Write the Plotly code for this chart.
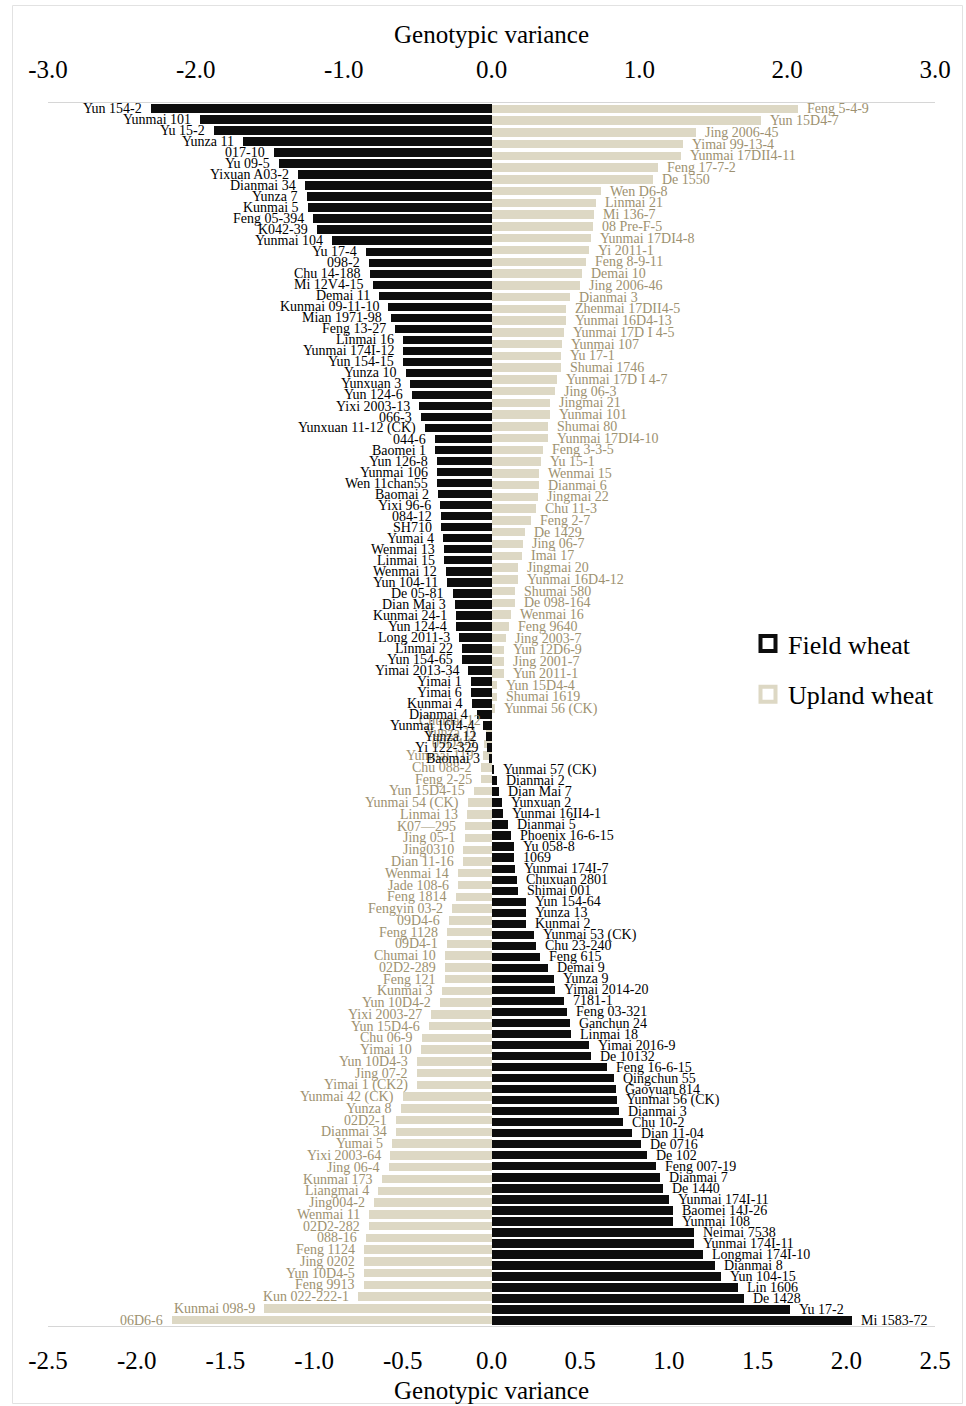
import plotly.graph_objects as go

# Field wheat genotypes (top axis scale), ranked by genotypic variance
field_names = [
    "Yun 154-2", "Yunmai 101", "Yu 15-2", "Yunza 11", "017-10", "Yu 09-5", "Yixuan A03-2", "Dianmai 34", "Yunza 7", "Kunmai 5",
    "Feng 05-394", "K042-39", "Yunmai 104", "Yu 17-4", "098-2", "Chu 14-188", "Mi 12V4-15", "Demai 11", "Kunmai 09-11-10", "Mian 1971-98",
    "Feng 13-27", "Linmai 16", "Yunmai 174I-12", "Yun 154-15", "Yunza 10", "Yunxuan 3", "Yun 124-6", "Yixi 2003-13", "066-3", "Yunxuan 11-12 (CK)",
    "044-6", "Baomei 1", "Yun 126-8", "Yunmai 106", "Wen 11chan55", "Baomai 2", "Yixi 96-6", "084-12", "SH710", "Yumai 4",
    "Wenmai 13", "Linmai 15", "Wenmai 12", "Yun 104-11", "De 05-81", "Dian Mai 3", "Kunmai 24-1", "Yun 124-4", "Long 2011-3", "Linmai 22",
    "Yun 154-65", "Yimai 2013-34", "Yimai 1", "Yimai 6", "Kunmai 4", "Dianmai 4", "Yunmai 16I4-4", "Yunza 12", "Yi 122-329", "Baomai 3",
    "Yunmai 57 (CK)", "Dianmai 2", "Dian Mai 7", "Yunxuan 2", "Yunmai 16II4-1", "Dianmai 5", "Phoenix 16-6-15", "Yu 058-8", "1069", "Yunmai 174I-7",
    "Chuxuan 2801", "Shimai 001", "Yun 154-64", "Yunza 13", "Kunmai 2", "Yunmai 53 (CK)", "Chu 23-240", "Feng 615", "Demai 9", "Yunza 9",
    "Yimai 2014-20", "7181-1", "Feng 03-321", "Ganchun 24", "Linmai 18", "Yimai 2016-9", "De 10132", "Feng 16-6-15", "Qingchun 55", "Gaoyuan 814",
    "Yunmai 56 (CK)", "Dianmai 3", "Chu 10-2", "Dian 11-04", "De 0716", "De 102", "Feng 007-19", "Dianmai 7", "De 1440", "Yunmai 174I-11",
    "Baomei 14J-26", "Yunmai 108", "Neimai 7538", "Yunmai 174I-11", "Longmai 174I-10", "Dianmai 8", "Yun 104-15", "Lin 1606", "De 1428", "Yu 17-2",
    "Mi 1583-72",
]
field_values = [
    -2.30, -1.97, -1.88, -1.68, -1.47, -1.44, -1.31, -1.26, -1.25, -1.24,
    -1.21, -1.18, -1.08, -0.85, -0.83, -0.82, -0.80, -0.76, -0.70, -0.68,
    -0.65, -0.60, -0.60, -0.60, -0.58, -0.55, -0.54, -0.49, -0.48, -0.45,
    -0.38, -0.38, -0.37, -0.37, -0.37, -0.36, -0.35, -0.34, -0.34, -0.33,
    -0.32, -0.32, -0.31, -0.30, -0.26, -0.25, -0.24, -0.24, -0.22, -0.20,
    -0.20, -0.16, -0.14, -0.14, -0.13, -0.10, -0.06, -0.04, -0.03, -0.02,
    0.02, 0.04, 0.05, 0.07, 0.08, 0.11, 0.13, 0.15, 0.15, 0.16,
    0.17, 0.18, 0.23, 0.23, 0.23, 0.29, 0.30, 0.33, 0.38, 0.42,
    0.43, 0.49, 0.51, 0.53, 0.54, 0.66, 0.67, 0.78, 0.83, 0.84,
    0.85, 0.86, 0.89, 0.95, 1.01, 1.05, 1.11, 1.14, 1.16, 1.20,
    1.23, 1.23, 1.37, 1.37, 1.43, 1.51, 1.55, 1.67, 1.71, 2.02,
    2.44,
]

# Upland wheat genotypes (bottom axis scale), ranked by genotypic variance
upland_names = [
    "Feng 5-4-9", "Yun 15D4-7", "Jing 2006-45", "Yimai 99-13-4", "Yunmai 17DII4-11", "Feng 17-7-2", "De 1550", "Wen D6-8", "Linmai 21", "Mi 136-7",
    "08 Pre-F-5", "Yunmai 17DI4-8", "Yi 2011-1", "Feng 8-9-11", "Demai 10", "Jing 2006-46", "Dianmai 3", "Zhenmai 17DII4-5", "Yunmai 16D4-13", "Yunmai 17D I 4-5",
    "Yunmai 107", "Yu 17-1", "Shumai 1746", "Yunmai 17D I 4-7", "Jing 06-3", "Jingmai 21", "Yunmai 101", "Shumai 80", "Yunmai 17DI4-10", "Feng 3-3-5",
    "Yu 15-1", "Wenmai 15", "Dianmai 6", "Jingmai 22", "Chu 11-3", "Feng 2-7", "De 1429", "Jing 06-7", "Imai 17", "Jingmai 20",
    "Yunmai 16D4-12", "Shumai 580", "De 098-164", "Wenmai 16", "Feng 9640", "Jing 2003-7", "Yun 12D6-9", "Jing 2001-7", "Yun 2011-1", "Yun 15D4-4",
    "Shumai 1619", "Yunmai 56 (CK)", "Chumai 12", "Yunza 11", "09D4-9", "Yunmai 119", "Chu 088-2", "Feng 2-25", "Yun 15D4-15", "Yunmai 54 (CK)",
    "Linmai 13", "K07\u2014295", "Jing 05-1", "Jing0310", "Dian 11-16", "Wenmai 14", "Jade 108-6", "Feng 1814", "Fengyin 03-2", "09D4-6",
    "Feng 1128", "09D4-1", "Chumai 10", "02D2-289", "Feng 121", "Kunmai 3", "Yun 10D4-2", "Yixi 2003-27", "Yun 15D4-6", "Chu 06-9",
    "Yimai 10", "Yun 10D4-3", "Jing 07-2", "Yimai 1 (CK2)", "Yunmai 42 (CK)", "Yunza 8", "02D2-1", "Dianmai 34", "Yumai 5", "Yixi 2003-64",
    "Jing 06-4", "Kunmai 173", "Liangmai 4", "Jing004-2", "Wenmai 11", "02D2-282", "088-16", "Feng 1124", "Jing 0202", "Yun 10D4-5",
    "Feng 9913", "Kun 022-222-1", "Kunmai 098-9", "06D6-6",
]
upland_values = [
    1.73, 1.52, 1.15, 1.08, 1.07, 0.94, 0.91, 0.62, 0.59, 0.575,
    0.57, 0.56, 0.55, 0.53, 0.51, 0.50, 0.44, 0.42, 0.42, 0.41,
    0.40, 0.39, 0.39, 0.37, 0.36, 0.33, 0.33, 0.32, 0.32, 0.29,
    0.28, 0.27, 0.27, 0.26, 0.25, 0.22, 0.19, 0.18, 0.17, 0.15,
    0.15, 0.13, 0.13, 0.11, 0.10, 0.08, 0.07, 0.07, 0.07, 0.03,
    0.03, 0.02, -0.01, -0.03, -0.04, -0.05, -0.06, -0.06, -0.10, -0.13,
    -0.14, -0.15, -0.15, -0.16, -0.16, -0.19, -0.19, -0.20, -0.22, -0.24,
    -0.25, -0.25, -0.26, -0.26, -0.26, -0.28, -0.29, -0.34, -0.35, -0.39,
    -0.40, -0.42, -0.42, -0.42, -0.50, -0.51, -0.54, -0.54, -0.56, -0.57,
    -0.58, -0.62, -0.64, -0.66, -0.69, -0.69, -0.71, -0.72, -0.72, -0.72,
    -0.72, -0.75, -1.28, -1.80,
]

top_ticks = [-3.0, -2.0, -1.0, 0.0, 1.0, 2.0, 3.0]
bottom_ticks = [-2.5, -2.0, -1.5, -1.0, -0.5, 0.0, 0.5, 1.0, 1.5, 2.0, 2.5]

FIELD_COLOR = "#0d0d0d"
UPLAND_COLOR = "#ddd8c4"
UPLAND_TEXT = "#9d9170"
FONT = "Liberation Serif"
LABEL_SIZE = 14

W, H = 966, 1406
ML, MR, MT, MB = 48, 31, 103, 80
PW, PH = W - ML - MR, H - MT - MB


def px_x(px):
    return (px - ML) / PW


def px_y(py):
    return (H - MB - py) / PH


field_rows = list(range(len(field_names)))
upland_rows = list(range(len(upland_names)))

fig = go.Figure()

fig.add_trace(go.Bar(
    x=upland_values, y=upland_rows, orientation="h",
    marker=dict(color=UPLAND_COLOR, line=dict(width=0)),
    width=0.72, xaxis="x", yaxis="y", showlegend=False,
    hovertext=upland_names, hoverinfo="text+x",
))
fig.add_trace(go.Bar(
    x=field_values, y=field_rows, orientation="h",
    marker=dict(color=FIELD_COLOR, line=dict(width=0)),
    width=0.77, xaxis="x2", yaxis="y2", showlegend=False,
    hovertext=field_names, hoverinfo="text+x",
))

# legend-only entries with hollow square symbols
fig.add_trace(go.Scatter(
    x=[None], y=[None], mode="markers", name="Field wheat", legendgroup="field",
    marker=dict(symbol="square-open", size=15, color=FIELD_COLOR, line=dict(width=4)),
))
fig.add_trace(go.Scatter(
    x=[None], y=[None], mode="markers", name="Upland wheat", legendgroup="upland",
    marker=dict(symbol="square-open", size=15, color=UPLAND_COLOR, line=dict(width=4)),
))

annotations = []
for i, (name, val) in enumerate(zip(upland_names, upland_values)):
    annotations.append(dict(
        x=val, y=i, xref="x", yref="y", text=name, showarrow=False,
        xanchor="right" if val < 0 else "left", yanchor="middle",
        xshift=-7 if val < 0 else 7,
        font=dict(family=FONT, size=LABEL_SIZE, color=UPLAND_TEXT),
    ))
for i, (name, val) in enumerate(zip(field_names, field_values)):
    annotations.append(dict(
        x=val, y=i, xref="x2", yref="y2", text=name, showarrow=False,
        xanchor="right" if val < 0 else "left", yanchor="middle",
        xshift=-7 if val < 0 else 7,
        font=dict(family=FONT, size=LABEL_SIZE, color="#000000"),
    ))

for py in (35, 1390):
    annotations.append(dict(
        x=0.5, y=px_y(py), xref="paper", yref="paper", text="Genotypic variance",
        showarrow=False, xanchor="center", yanchor="middle",
        font=dict(family=FONT, size=25, color="#000000"),
    ))

axis_common = dict(
    showgrid=False, zeroline=False, showline=True, linecolor="#d6d6d6", linewidth=1,
    ticks="", tickfont=dict(family=FONT, size=25, color="#000000"),
    fixedrange=True,
)

fig.update_layout(
    width=W, height=H,
    margin=dict(l=ML, r=MR, t=MT, b=MB),
    paper_bgcolor="white", plot_bgcolor="white",
    barmode="overlay", bargap=0,
    xaxis=dict(
        range=[bottom_ticks[0], bottom_ticks[-1]], tickvals=bottom_ticks,
        ticktext=[f"{v:.1f}" for v in bottom_ticks], anchor="y", side="bottom",
        ticklabelstandoff=12, **axis_common,
    ),
    xaxis2=dict(
        range=[top_ticks[0], top_ticks[-1]], tickvals=top_ticks,
        ticktext=[f"{v:.1f}" for v in top_ticks], anchor="y2", side="top",
        overlaying="x", ticklabelstandoff=14, **axis_common,
    ),
    yaxis=dict(range=[len(upland_names) - 0.5, -0.5], visible=False, fixedrange=True),
    yaxis2=dict(range=[len(field_names) - 0.5, -0.5], visible=False,
                overlaying="y", fixedrange=True),
    legend=dict(
        x=px_x(748), y=px_y(620), xanchor="left", yanchor="top",
        font=dict(family=FONT, size=26, color="#000000"),
        bgcolor="rgba(0,0,0,0)", tracegroupgap=14, itemwidth=30,
    ),
    annotations=annotations,
    shapes=[dict(
        type="rect", xref="paper", yref="paper",
        x0=px_x(12.5), x1=px_x(962.5), y0=px_y(1403.5), y1=px_y(5.5),
        line=dict(color="#e2e2e2", width=1), fillcolor="rgba(0,0,0,0)",
    )],
    showlegend=True,
)

fig.write_html("out.html")
